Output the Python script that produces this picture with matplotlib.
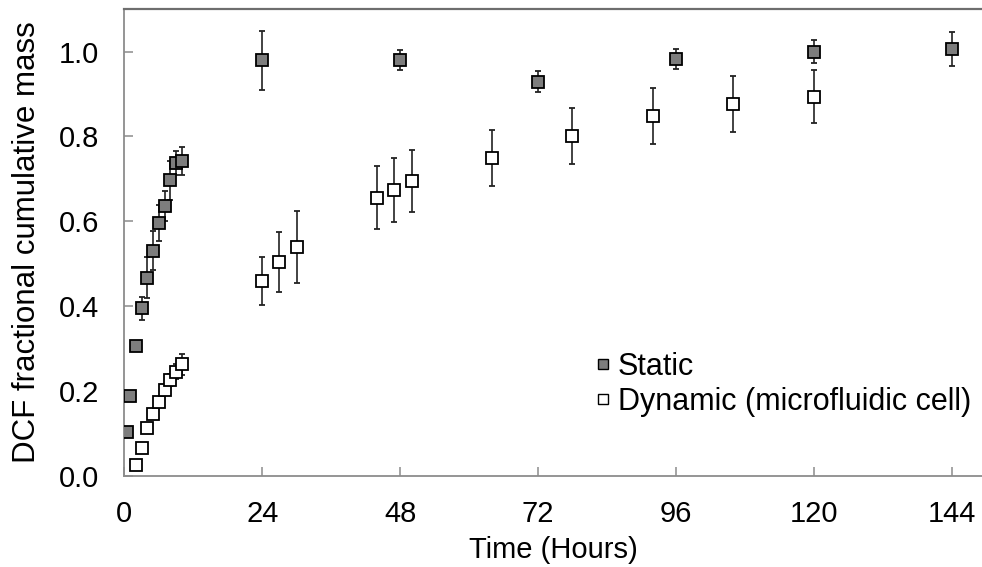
import numpy as np
import matplotlib
matplotlib.use('Agg')
import matplotlib.pyplot as plt
from matplotlib.lines import Line2D

plt.rcParams['font.family'] = ['Liberation Sans', 'DejaVu Sans']

# Static の測定値 (時間, 累積質量分率, 誤差)
static_t = [0.5, 1, 2, 3, 4, 5, 6, 7, 8, 9, 10, 24, 48, 72, 96, 120, 144]
static_y = [0.104, 0.189, 0.307, 0.395, 0.467, 0.531, 0.596, 0.636, 0.697,
            0.738, 0.742, 0.979, 0.980, 0.929, 0.983, 1.000, 1.006]
static_err = [0.003, 0.004, 0.008, 0.027, 0.048, 0.045, 0.043, 0.035, 0.046,
              0.028, 0.034, 0.070, 0.023, 0.025, 0.024, 0.028, 0.040]

# Dynamic (microfluidic cell) の測定値
dyn_t = [2, 3, 4, 5, 6, 7, 8, 9, 10, 24, 27, 30, 44, 47, 50, 64, 78, 92, 106, 120]
dyn_y = [0.026, 0.065, 0.114, 0.146, 0.175, 0.203, 0.226, 0.246, 0.263,
         0.460, 0.504, 0.540, 0.656, 0.674, 0.694, 0.750, 0.801, 0.848,
         0.876, 0.894]
dyn_err = [0.004, 0.005, 0.006, 0.008, 0.010, 0.012, 0.015, 0.018, 0.024,
           0.056, 0.070, 0.085, 0.075, 0.075, 0.073, 0.066, 0.065, 0.065,
           0.066, 0.062]

x_ticks = [0, 24, 48, 72, 96, 120, 144]
y_ticks = [0.0, 0.2, 0.4, 0.6, 0.8, 1.0]

static_color = '#7d7d7d'

fig = plt.figure(figsize=(9.82, 5.67), dpi=100)
ax = fig.add_axes([0.1266, 0.1605, 0.8734, 0.8235])

ax.errorbar(dyn_t, dyn_y, yerr=dyn_err, fmt='s', ms=8.6, mfc='white',
            mec='black', mew=1.3, ecolor='#222222', elinewidth=1.2,
            capsize=2.2, capthick=1.2, zorder=3)
ax.errorbar(static_t, static_y, yerr=static_err, fmt='s', ms=8.6,
            mfc=static_color, mec='black', mew=1.3, ecolor='#222222',
            elinewidth=1.2, capsize=2.2, capthick=1.2, zorder=4)

ax.set_xlim(0, 149.3)
ax.set_ylim(0, 1.1)
ax.set_xticks(x_ticks)
ax.set_yticks(y_ticks)
ax.set_yticklabels(['%.1f' % v for v in y_ticks])

# 軸の見た目
ax.spines['right'].set_visible(False)
for s in ['left', 'bottom']:
    ax.spines[s].set_color('#8c8c8c')
    ax.spines[s].set_linewidth(1.3)
ax.spines['top'].set_color('#6e6e6e')
ax.spines['top'].set_linewidth(1.6)
ax.tick_params(axis='both', direction='in', length=6.5, width=1.1,
               color='#8c8c8c', labelsize=21)
ax.tick_params(axis='y', pad=18)
ax.tick_params(axis='x', pad=17)

ax.set_xlabel('Time (Hours)', fontsize=21, labelpad=6)
ax.set_ylabel('DCF fractional cumulative mass', fontsize=22.5, labelpad=12)

# 凡例 (誤差棒なしのマーカーのみ)
handles = [
    Line2D([], [], ls='none', marker='s', ms=7, mfc=static_color,
           mec='black', mew=1.0),
    Line2D([], [], ls='none', marker='s', ms=7, mfc='white',
           mec='black', mew=1.0),
]
ax.legend(handles, ['Static', 'Dynamic (microfluidic cell)'],
          loc='center left', bbox_to_anchor=(0.549, 0.196), frameon=False,
          fontsize=22, handlelength=0.5, handletextpad=0.25,
          labelspacing=0.15, borderpad=0, borderaxespad=0)

fig.savefig('out.png', dpi=100)
